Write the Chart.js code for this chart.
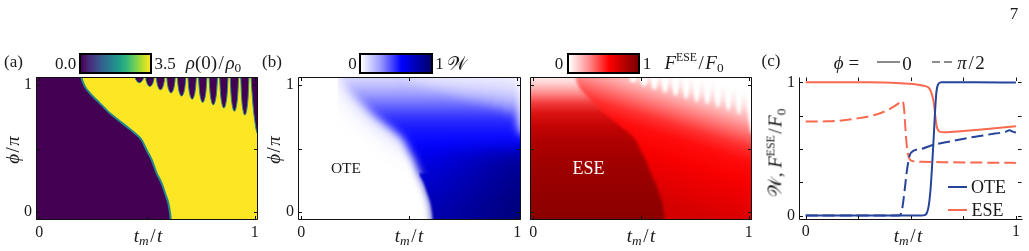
<!DOCTYPE html>
<html><head><meta charset="utf-8">
<script src="https://cdn.jsdelivr.net/npm/chart.js@4.4.1/dist/chart.umd.min.js"></script>
<style>
html,body{margin:0;padding:0;background:#fff;}
#fig{position:relative;width:1029px;height:251px;overflow:hidden;font-family:"Liberation Serif","DejaVu Serif",serif;color:#1a1a1a;}
canvas{position:absolute;left:0;top:0;}
.t{position:absolute;transform:translate(-50%,-50%);white-space:nowrap;font-size:17px;line-height:1;}
.m{font-size:19px;}
.r{transform:translate(-50%,-50%) rotate(-90deg);}
.cb{position:absolute;box-sizing:border-box;border:2px solid #000;height:21px;top:52.5px;}
sub{font-size:70%;vertical-align:-0.3em;line-height:0;}
sup{font-size:62%;vertical-align:0.6em;line-height:0;}
.sl{padding:0 1.5px;}
.ln{position:absolute;height:2px;}
</style></head>
<body><div id="fig">
<canvas id="cA" width="1029" height="251"></canvas>
<canvas id="cB" width="1029" height="251"></canvas>
<canvas id="cC" width="1029" height="251"></canvas>
<canvas id="cD" width="1029" height="251"></canvas>

<div class="t" style="left:1014px;top:13px;font-size:17px">7</div>

<!-- panel (a) -->
<div class="t" style="left:13.5px;top:61px">(a)</div>
<div class="cb" style="left:78.5px;width:73px;background:linear-gradient(to right,#440154,#482878,#3e4989,#31688e,#26828e,#1f9e89,#35b779,#6ece58,#b5de2b,#fde725)"></div>
<div class="t" style="left:65.5px;top:62.5px">0.0</div>
<div class="t" style="left:165px;top:62.5px">3.5</div>
<div class="t m" style="left:213.5px;top:62px"><i>ρ</i>(0)<span class="sl">/</span><i>ρ</i><sub>0</sub></div>
<div class="t m r" style="left:11.5px;top:150px"><i>ϕ</i><span class="sl">/</span><i>π</i></div>
<div class="t m" style="left:148px;top:235px"><i>t</i><sub><i>m</i></sub><span class="sl">/</span><i>t</i></div>

<!-- panel (b) -->
<div class="t" style="left:272px;top:61px">(b)</div>
<div class="cb" style="left:359px;width:74px;background:linear-gradient(to right,#ffffff 0%,#9a9aff 28%,#0000ff 58%,#0000b0 80%,#00006e 100%)"></div>
<div class="t" style="left:352.5px;top:62.5px">0</div>
<div class="t" style="left:439.5px;top:62.5px">1</div>
<div class="t m" style="left:457px;top:62.5px">𝒲</div>
<div class="t m r" style="left:273px;top:150px"><i>ϕ</i><span class="sl">/</span><i>π</i></div>
<div class="t m" style="left:409px;top:235px"><i>t</i><sub><i>m</i></sub><span class="sl">/</span><i>t</i></div>
<div class="t" style="left:346px;top:167.5px;font-size:15.5px">OTE</div>

<!-- panel (b) right map -->
<div class="cb" style="left:566.7px;width:73.3px;background:linear-gradient(to right,#ffffff 0%,#ff9090 28%,#ff0000 58%,#b80000 80%,#7a0000 100%)"></div>
<div class="t" style="left:559px;top:62.5px">0</div>
<div class="t" style="left:647px;top:62.5px">1</div>
<div class="t m" style="left:694px;top:62px"><i>F</i><sup>ESE</sup><span class="sl">/</span><i>F</i><sub>0</sub></div>
<div class="t m" style="left:641px;top:235px"><i>t</i><sub><i>m</i></sub><span class="sl">/</span><i>t</i></div>
<div class="t" style="left:588.5px;top:168px;font-size:18px;color:#fff">ESE</div>

<!-- panel (c) -->
<div class="t" style="left:771px;top:60px">(c)</div>
<div class="t m" style="left:846.5px;top:62px"><i>ϕ</i> =</div>
<div class="ln" style="left:877px;top:61px;width:23px;background:#8c8c8c"></div>
<div class="t m" style="left:907px;top:62.5px">0</div>
<div class="ln" style="left:932px;top:61px;width:21px;background:repeating-linear-gradient(to right,#8c8c8c 0 8px,transparent 8px 12px)"></div>
<div class="t m" style="left:971px;top:62px"><i>π</i><span class="sl">/</span>2</div>
<div class="t m r" style="left:775px;top:153px">𝒲, <i>F</i><sup>ESE</sup><span class="sl">/</span><i>F</i><sub>0</sub></div>
<div class="t m" style="left:908px;top:235px"><i>t</i><sub><i>m</i></sub><span class="sl">/</span><i>t</i></div>
<div class="ln" style="left:948px;top:186px;width:19px;background:#27449b"></div>
<div class="t" style="left:988.5px;top:187px;font-size:18px">OTE</div>
<div class="ln" style="left:948px;top:209px;width:19px;background:#f9694f"></div>
<div class="t" style="left:987.5px;top:210px;font-size:18px">ESE</div>
</div>

<script>
// ---------- data ----------
// phase boundary (t_m/t , phi/pi), shared by panels (a) and (b)
const edgeTm  = [-0.3, 0.17, 0.197, 0.212, 0.236, 0.266, 0.297, 0.328, 0.367, 0.406, 0.444, 0.475, 0.498, 0.522, 0.545, 0.568, 0.584, 0.599, 0.607, 0.610, 0.615, 1.3];
const edgePhi = [1.3, 1.3, 1.054, 0.989, 0.936, 0.883, 0.831, 0.778, 0.725, 0.673, 0.620, 0.567, 0.488, 0.409, 0.304, 0.225, 0.146, 0.067, -0.012, -0.065, -0.3, -0.3];
// upper (scalloped) limit of the high-t_m phase
const upTm = [0.17, 0.44,
  0.445,0.4488,0.4562,0.4645,0.4728,0.4802,0.484,0.489,
  0.494,0.4978,0.5052,0.5135,0.5218,0.5292,0.533,0.538,
  0.543,0.5468,0.5542,0.5625,0.5708,0.5782,0.582,0.587,
  0.592,0.5958,0.6032,0.6115,0.6198,0.6272,0.631,0.636,
  0.641,0.6448,0.6522,0.6605,0.6688,0.6762,0.680,0.685,
  0.690,0.6938,0.7012,0.7095,0.7178,0.7252,0.729,0.734,
  0.739,0.7428,0.7502,0.7585,0.7668,0.7742,0.778,0.783,
  0.788,0.7918,0.7992,0.8075,0.8158,0.8232,0.827,0.832,
  0.837,0.8408,0.8482,0.8565,0.8648,0.8722,0.876,0.881,
  0.886,0.8898,0.8972,0.9055,0.9138,0.9212,0.925,0.930,
  0.935,0.9386,0.9458,0.954,0.9622,0.9694,0.973,0.978,
  0.983,0.987,0.993,1.000,1.012,1.3];
const upPhi = [1.3, 1.3,
  1.065,1.0425,1.0254,1.020,1.0254,1.0425,1.065,1.3,
  1.065,1.0275,0.999,0.990,0.999,1.0275,1.065,1.3,
  1.065,1.015,0.977,0.965,0.977,1.015,1.065,1.3,
  1.065,1.0025,0.955,0.940,0.955,1.0025,1.065,1.3,
  1.065,0.990,0.933,0.915,0.933,0.990,1.065,1.3,
  1.065,0.9775,0.911,0.890,0.911,0.9775,1.065,1.3,
  1.065,0.965,0.889,0.865,0.889,0.965,1.065,1.3,
  1.065,0.955,0.871,0.845,0.871,0.955,1.065,1.3,
  1.065,0.9425,0.849,0.820,0.849,0.9425,1.065,1.3,
  1.065,0.930,0.827,0.795,0.827,0.930,1.065,1.3,
  1.065,0.915,0.801,0.765,0.801,0.915,1.065,1.3,
  1.065,0.950,0.820,0.720,0.620,0.570];
// panel (c) curves
const oteZeroX = [0, 0.3, 0.55, 0.565, 0.575, 0.585, 0.595, 0.603, 0.61, 0.616, 0.622, 0.63, 0.645, 0.8, 1];
const oteZeroY = [0, 0, 0, 0.003, 0.015, 0.07, 0.22, 0.42, 0.62, 0.8, 0.93, 0.985, 1.0, 1.0, 0.998];
const eseZeroX = [0, 0.3, 0.45, 0.52, 0.56, 0.58, 0.59, 0.60, 0.61, 0.617, 0.623, 0.63, 0.64, 0.66, 0.75, 0.85, 1];
const eseZeroY = [1.0, 1.0, 0.993, 0.985, 0.975, 0.965, 0.95, 0.91, 0.84, 0.74, 0.67, 0.64, 0.628, 0.625, 0.635, 0.648, 0.67];
const oteHalfX = [0, 0.2, 0.445, 0.452, 0.46, 0.47, 0.48, 0.49, 0.5, 0.55, 0.6, 0.7, 0.8, 0.9, 0.95, 0.97, 0.985, 1];
const oteHalfY = [0, 0, 0, 0.01, 0.06, 0.18, 0.32, 0.42, 0.47, 0.5, 0.527, 0.56, 0.59, 0.615, 0.628, 0.64, 0.63, 0.622];
const eseHalfX = [0, 0.1, 0.18, 0.26, 0.34, 0.40, 0.44, 0.455, 0.462, 0.468, 0.474, 0.481, 0.49, 0.505, 0.55, 0.7, 0.85, 1];
const eseHalfY = [0.705, 0.707, 0.715, 0.733, 0.76, 0.80, 0.84, 0.86, 0.855, 0.80, 0.66, 0.52, 0.44, 0.41, 0.403, 0.40, 0.397, 0.395];
// ticks
const heatTicks = [0, 0.5, 1];
const heatTickText = ['0', '', '1'];
const lineTicks = [0, 0.25, 0.5, 0.75, 1];
const lineTickText = ['0', '', '', '', '1'];

// ---------- region helpers (drawing construction, not data) ----------
const spanTm = [-0.3, 1.3], spanPhi = [1.3, 1.3];
const cut1Tm = [0.545, 1.3], cut1Phi = [0.304, 0.304];
const cut3Tm = [0.498, 1.3], cut3Phi = [0.488, 0.488];

// ---------- styles ----------
const FONT = "'Liberation Serif','DejaVu Serif',serif";
const PURPLE = '#440154', YELLOW = '#fde725', EDGE = '#23898c';
const NAVY = '#27449b', TOMATO = '#f9694f';
const wPhi = [1.065, 0.95, 0.85, 0.75, 0.65, 0.55, 0.45, 0.3, 0.1, -0.065];
const wCol = ['#dcdcff','#aaaaff','#6e6eff','#3434ff','#1616ff','#0606ff','#0000ec','#0000d4','#0000bc','#0000b0'];
const hazePhi = [1.065, 0.8, 0.6, 0.45];
const hazeCol = ['rgba(150,150,255,0.55)','rgba(110,110,255,0.6)','rgba(60,60,255,0.35)','rgba(60,60,255,0)'];
const fLeftPhi = [1.065, 1.0, 0.93, 0.86, 0.78, 0.68, 0.55, 0.35, 0.1, -0.065];
const fLeftCol = ['#fff0f0','#ffc4c4','#ff8585','#f23c3c','#dc1212','#c40404','#ae0000','#9e0000','#920000','#8c0000'];
const fRightOff = [0, 0.1, 0.2, 0.3, 0.4, 0.5, 0.65, 0.85, 1];
const fRightCol = ['#ffffff','#ffe4e4','#ffb0b0','#ff7272','#ff3030','#ff0c0c','#f80000','#e40000','#d40000'];

const xy = (xs, ys) => xs.map((x, i) => ({x, y: ys[i]}));

function ready(chart) {
  return chart.chartArea && chart.scales.x && chart.scales.y &&
    isFinite(chart.scales.y.getPixelForValue(0)) && isFinite(chart.scales.x.getPixelForValue(0));
}
function vGrad(chart, phis, cols) {
  if (!ready(chart)) return 'transparent';
  const y = chart.scales.y;
  const p0 = y.getPixelForValue(phis[0]), p1 = y.getPixelForValue(phis[phis.length - 1]);
  const g = chart.ctx.createLinearGradient(0, p0, 0, p1);
  phis.forEach((p, i) => g.addColorStop((y.getPixelForValue(p) - p0) / (p1 - p0), cols[i]));
  return g;
}
function dGrad(chart, a, b, offs, cols) {
  if (!ready(chart)) return 'transparent';
  const {x, y} = chart.scales;
  const g = chart.ctx.createLinearGradient(x.getPixelForValue(a[0]), y.getPixelForValue(a[1]),
                                           x.getPixelForValue(b[0]), y.getPixelForValue(b[1]));
  offs.forEach((o, i) => g.addColorStop(o, cols[i]));
  return g;
}

// blur of individual fills (filler draws fill i in beforeDatasetDraw(i))
function setBlur(chart, i) {
  const ds = chart.data.datasets[i];
  chart.ctx.filter = ds && ds.blurPx ? 'blur(' + ds.blurPx + 'px)' : 'none';
}
const blurPlugin = {
  id: 'blurFill',
  beforeDatasetsDraw(chart) { setBlur(chart, chart.data.datasets.length - 1); },
  beforeDatasetDraw(chart) { chart.ctx.filter = 'none'; },
  afterDatasetDraw(chart, args) { setBlur(chart, args.index - 1); },
  afterDatasetsDraw(chart) { chart.ctx.filter = 'none'; }
};
// frame and inward ticks
const framePlugin = {
  id: 'frame',
  afterDraw(chart, args, o) {
    const {ctx, chartArea: a, scales: {x, y}} = chart;
    const L = Math.round(a.left) + 0.5, R = Math.round(a.right) - 0.5;
    const T = Math.round(a.top) + 0.5, B = Math.round(a.bottom) - 0.5;
    ctx.save();
    ctx.filter = 'none';
    ctx.strokeStyle = '#111';
    ctx.lineWidth = 1;
    ctx.beginPath();
    if (o.box) { ctx.rect(L, T, R - L, B - T); }
    else { ctx.moveTo(L, T); ctx.lineTo(L, B); ctx.lineTo(R + 1, B); }
    ctx.stroke();
    ctx.beginPath();
    const k = 3.5;
    o.xt.forEach(v => { const p = Math.round(x.getPixelForValue(v)) + 0.5;
      ctx.moveTo(p, B); ctx.lineTo(p, B - k); ctx.moveTo(p, T); ctx.lineTo(p, T + k); });
    o.yt.forEach(v => { const p = Math.round(y.getPixelForValue(v)) + 0.5;
      ctx.moveTo(L, p); ctx.lineTo(L + k, p); ctx.moveTo(R, p); ctx.lineTo(R - k, p); });
    ctx.stroke();
    ctx.restore();
  }
};

function axisCfg(min, max, ticks, texts, isX, show, size) {
  return {
    type: 'linear', min, max,
    afterBuildTicks: s => { s.ticks = ticks.map(v => ({value: v})); },
    afterFit: s => {
      if (isX) { s.height = size; s.paddingLeft = 0; s.paddingRight = 0; }
      else { s.width = show ? size : 0; s.paddingTop = 0; s.paddingBottom = 0; }
    },
    grid: {display: false, drawTicks: false}, border: {display: false},
    ticks: {display: show, autoSkip: false, maxRotation: 0, padding: isX ? 3 : 4, color: '#1a1a1a',
            font: {family: FONT, size: 16}, callback: (v, i) => texts[i]}
  };
}
function baseOptions(pad, xr, yr, ticks, texts, showY, box, drawTime) {
  return {
    responsive: false, animation: false, devicePixelRatio: 1, events: [],
    layout: {padding: pad},
    elements: {point: {radius: 0}, line: {borderWidth: 0}},
    plugins: {legend: {display: false}, tooltip: {enabled: false},
              filler: {drawTime: drawTime || 'beforeDatasetDraw'},
              frame: {box, xt: ticks, yt: ticks}},
    scales: {x: axisCfg(xr[0], xr[1], ticks, texts, true, true, 25),
             y: axisCfg(yr[0], yr[1], ticks, texts, false, showY, 24)}
  };
}
const HX = [-0.015, 1.015], HY = [-0.065, 1.065];

// ---------- (a) density ----------
new Chart(document.getElementById('cA'), {
  type: 'line',
  data: {datasets: [
    {data: xy(upTm, upPhi), fill: {target: 1}, backgroundColor: YELLOW, borderColor: EDGE, borderWidth: 1, cubicInterpolationMode: 'monotone'},
    {data: xy(edgeTm, edgePhi), fill: false, borderColor: EDGE, borderWidth: 2, cubicInterpolationMode: 'monotone'},
    {data: xy(spanTm, spanPhi), fill: {value: -0.3}, backgroundColor: PURPLE, borderWidth: 0}
  ]},
  options: baseOptions({left: 12, right: 771, top: 77, bottom: 6}, HX, HY, heatTicks, heatTickText, true, true, 'beforeDatasetsDraw'),
  plugins: [framePlugin]
});

// ---------- (b) W ----------
new Chart(document.getElementById('cB'), {
  type: 'line',
  data: {datasets: [
    {data: xy(cut3Tm, cut3Phi), fill: {target: 4}, blurPx: 8,
     backgroundColor: c => dGrad(c.chart, [0.6, 0.3], [1.0, 0.3], [0, 1], ['rgba(0,0,50,0)', 'rgba(0,0,50,0.42)'])},
    {data: xy(cut1Tm, cut1Phi), fill: {target: 4}, blurPx: 1.2, backgroundColor: c => vGrad(c.chart, wPhi, wCol)},
    {data: xy(upTm, upPhi), fill: {target: 4}, blurPx: 4.5, cubicInterpolationMode: 'monotone', backgroundColor: c => vGrad(c.chart, wPhi, wCol)},
    {data: xy(upTm, upPhi), fill: {target: 4}, blurPx: 13, cubicInterpolationMode: 'monotone', backgroundColor: c => vGrad(c.chart, hazePhi, hazeCol)},
    {data: xy(edgeTm, edgePhi), fill: false, cubicInterpolationMode: 'monotone'}
  ]},
  options: baseOptions({left: 274, right: 508.5, top: 77, bottom: 6}, HX, HY, heatTicks, heatTickText, true, true),
  plugins: [blurPlugin, framePlugin]
});

// ---------- (b) F_ESE ----------
new Chart(document.getElementById('cC'), {
  type: 'line',
  data: {datasets: [
    {data: xy(upTm, upPhi), fill: {target: 1}, blurPx: 1.8, cubicInterpolationMode: 'monotone',
     backgroundColor: c => dGrad(c.chart, [0.8, 1.05], [0.62, 0.05], fRightOff, fRightCol)},
    {data: xy(edgeTm, edgePhi), fill: {value: -0.3}, cubicInterpolationMode: 'monotone', borderWidth: 10,
     borderColor: c => vGrad(c.chart, fLeftPhi, fLeftCol),
     backgroundColor: c => vGrad(c.chart, fLeftPhi, fLeftCol)}
  ]},
  options: baseOptions({left: 530, right: 277, top: 77, bottom: 6}, HX, HY, heatTicks, heatTickText, false, true),
  plugins: [blurPlugin, framePlugin]
});

// ---------- (c) curves ----------
const lineDs = (xs, ys, col, dash) => ({data: xy(xs, ys), borderColor: col, borderWidth: 2, borderDash: dash,
  fill: false, cubicInterpolationMode: 'monotone', borderCapStyle: 'butt'});
new Chart(document.getElementById('cD'), {
  type: 'line',
  data: {datasets: [
    lineDs(oteZeroX, oteZeroY, NAVY, []),
    lineDs(eseZeroX, eseZeroY, TOMATO, []),
    lineDs(oteHalfX, oteHalfY, NAVY, [12, 5]),
    lineDs(eseHalfX, eseHalfY, TOMATO, [12, 5])
  ]},
  options: baseOptions({left: 775, right: 7, top: 77, bottom: 6.5}, [-0.032, 1.029], [-0.03, 1.04], lineTicks, lineTickText, true, false),
  plugins: [framePlugin]
});
</script>
</body></html>
